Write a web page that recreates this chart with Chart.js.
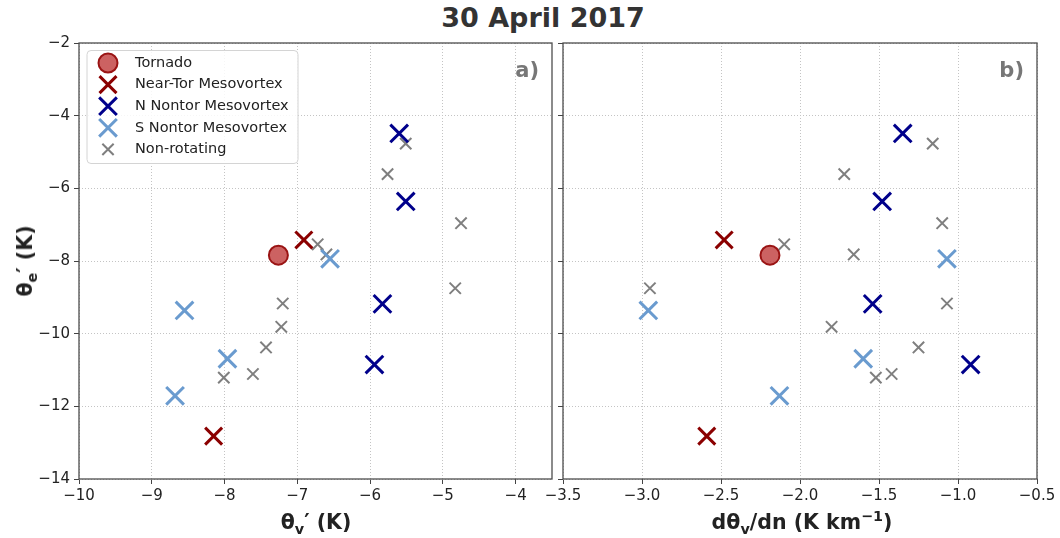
<!DOCTYPE html>
<html>
<head>
<meta charset="utf-8">
<title>30 April 2017</title>
<script src="https://cdn.jsdelivr.net/npm/chart.js@4.4.0/dist/chart.umd.min.js"></script>
<style>
  body { margin: 0; background: #fff; font-family: 'DejaVu Sans', sans-serif; }
  #wrap { position: relative; width: 1060px; height: 538px; overflow: hidden; }
  canvas { position: absolute; top: 0; }
  #chartA { left: 0; }
  #chartB { left: 530px; }
  #title { position: absolute; left: 543px; top: 2px; transform: translateX(-50%);
           font-size: 27px; font-weight: bold; color: #333; white-space: nowrap; }
  .lbl { position: absolute; font-size: 20.5px; line-height: 24px; font-weight: bold; color: #222;
         white-space: nowrap; transform: translate(-50%, -50%); }
  .lbl sub { font-size: 70%; vertical-align: -0.35em; line-height: 0; }
  .lbl sup { font-size: 70%; vertical-align: 0.55em; line-height: 0; }
  #ylab { left: 25px; top: 261px; transform: translate(-50%, -50%) rotate(-90deg); }
  #xlabA { left: 316px; top: 522px; }
  #xlabB { left: 802px; top: 522px; }
</style>
</head>
<body>
<div id="wrap">
  <div id="title">30 April 2017</div>
  <canvas id="chartA" width="556" height="538"></canvas>
  <canvas id="chartB" width="530" height="538"></canvas>
  <div class="lbl" id="ylab">θ<sub>e</sub>′ (K)</div>
  <div class="lbl" id="xlabA">θ<sub>v</sub>′ (K)</div>
  <div class="lbl" id="xlabB">dθ<sub>v</sub>/dn (K km<sup>−1</sup>)</div>
</div>
<script>
// groups, in legend order
const groups = ['Tornado', 'Near-Tor Mesovortex', 'N Nontor Mesovortex', 'S Nontor Mesovortex', 'Non-rotating'];

// theta_e' (K), shared y of both panels
const tornadoThetaE = [-7.84];
const nearTorThetaE = [-7.42, -12.82];
const nNontorThetaE = [-4.49, -6.36, -9.18, -10.85];
const sNontorThetaE = [-7.94, -9.36, -10.69, -11.71];
const nonRotThetaE = [-4.77, -5.61, -6.96, -7.54, -7.82, -8.75, -9.17, -9.81, -10.38, -11.11, -11.21];

// theta_v' (K), panel a
const tornadoThetaV = [-7.26];
const nearTorThetaV = [-6.91, -8.15];
const nNontorThetaV = [-5.60, -5.51, -5.83, -5.94];
const sNontorThetaV = [-6.55, -8.55, -7.96, -8.68];
const nonRotThetaV = [-5.51, -5.76, -4.75, -6.72, -6.60, -4.83, -7.20, -7.22, -7.43, -7.61, -8.01];

// d(theta_v)/dn (K/km), panel b
const tornadoGrad = [-2.19];
const nearTorGrad = [-2.48, -2.59];
const nNontorGrad = [-1.35, -1.48, -1.54, -0.92];
const sNontorGrad = [-1.07, -2.96, -1.60, -2.13];
const nonRotGrad = [-1.16, -1.72, -1.10, -2.10, -1.66, -2.95, -1.07, -1.80, -1.25, -1.42, -1.52];

// axis ranges and tick steps
const yRange = [-14, -2], yStep = 2;
const xRangeA = [-10, -3.5], xStepA = 1;
const xRangeB = [-3.5, -0.5], xStepB = 0.5;

Chart.defaults.font.family = "'DejaVu Sans', sans-serif";
Chart.defaults.font.size = 15;
Chart.defaults.color = '#222';

function pts(xs, ys) {
    return xs.map((x, i) => ({ x: x, y: ys[i] }));
}

function minusFmt(dec) {
    return v => (v < 0 ? '\u2212' : '') + Math.abs(v).toFixed(dec);
}

function makeDatasets(xs) {
    const ys = [tornadoThetaE, nearTorThetaE, nNontorThetaE, sNontorThetaE, nonRotThetaE];
    const styles = [
        { pointStyle: 'circle', pointRadius: 9.5, pointBackgroundColor: 'rgba(195,70,70,0.85)', pointBorderColor: '#9a1414', pointBorderWidth: 2 },
        { pointStyle: 'crossRot', pointRadius: 12, pointBackgroundColor: '#8b0000', pointBorderColor: '#8b0000', pointBorderWidth: 3 },
        { pointStyle: 'crossRot', pointRadius: 12.5, pointBackgroundColor: '#00008b', pointBorderColor: '#00008b', pointBorderWidth: 3 },
        { pointStyle: 'crossRot', pointRadius: 12.5, pointBackgroundColor: '#6a9bcf', pointBorderColor: '#6a9bcf', pointBorderWidth: 3 },
        { pointStyle: 'crossRot', pointRadius: 8, pointBackgroundColor: '#7f7f7f', pointBorderColor: '#7f7f7f', pointBorderWidth: 2 }
    ];
    return groups.map((g, i) => Object.assign({ label: g, data: pts(xs[i], ys[i]), pointHoverRadius: styles[i].pointRadius }, styles[i]));
}

// box round each panel plus the a) / b) tag
const panelDecor = {
    id: 'panelDecor',
    afterDatasetsDraw(chart, args, opts) {
        const ctx = chart.ctx, a = chart.chartArea;
        ctx.save();
        ctx.strokeStyle = '#4d4d4d';
        ctx.lineWidth = 1.3;
        ctx.strokeRect(a.left, a.top, a.right - a.left, a.bottom - a.top);
        ctx.font = "bold 21px 'DejaVu Sans'";
        ctx.fillStyle = '#777';
        ctx.textAlign = 'right';
        ctx.textBaseline = 'middle';
        ctx.fillText(opts.text, a.right - 13, a.top + 29);
        ctx.restore();
    }
};

// legend drawn inside the plot area, upper left
const insetLegend = {
    id: 'insetLegend',
    afterDraw(chart, args, opts) {
        if (!opts.show) return;
        const ctx = chart.ctx, a = chart.chartArea;
        const x0 = a.left + 8, y0 = a.top + 7.5, w = 211, h = 113, r = 4;
        ctx.save();
        ctx.beginPath();
        ctx.moveTo(x0 + r, y0);
        ctx.arcTo(x0 + w, y0, x0 + w, y0 + h, r);
        ctx.arcTo(x0 + w, y0 + h, x0, y0 + h, r);
        ctx.arcTo(x0, y0 + h, x0, y0, r);
        ctx.arcTo(x0, y0, x0 + w, y0, r);
        ctx.closePath();
        ctx.fillStyle = 'rgba(255,255,255,0.85)';
        ctx.fill();
        ctx.strokeStyle = '#d4d4d4';
        ctx.lineWidth = 1;
        ctx.stroke();

        chart.data.datasets.forEach((ds, i) => {
            const cy = y0 + 12.5 + i * 21.6;
            ctx.strokeStyle = ds.pointBorderColor;
            ctx.fillStyle = ds.pointBackgroundColor;
            ctx.lineWidth = ds.pointBorderWidth;
            Chart.helpers.drawPoint(ctx, {
                pointStyle: ds.pointStyle, radius: ds.pointRadius,
                rotation: 0, borderWidth: ds.pointBorderWidth
            }, x0 + 21, cy);
            ctx.fillStyle = '#222';
            ctx.font = "14.5px 'DejaVu Sans'";
            ctx.textAlign = 'left';
            ctx.textBaseline = 'middle';
            ctx.fillText(ds.label, x0 + 48, cy);
        });
        ctx.restore();
    }
};

function gridOpts() {
    return { color: '#c4c4c4', lineWidth: 1, tickColor: '#444', tickLength: 5, tickWidth: 1 };
}

function makePanel(canvasId, xs, xRange, xStep, xDec, yAxisWidth, padRight, tag, showLegend, showYLabels) {
    return new Chart(document.getElementById(canvasId), {
        type: 'scatter',
        data: { datasets: makeDatasets(xs) },
        options: {
            responsive: false,
            animation: false,
            layout: { autoPadding: false, padding: { top: 43, right: padRight, bottom: 0, left: 0 } },
            plugins: {
                legend: { display: false },
                tooltip: { enabled: false },
                panelDecor: { text: tag },
                insetLegend: { show: showLegend }
            },
            scales: {
                x: {
                    type: 'linear',
                    min: xRange[0], max: xRange[1],
                    grid: gridOpts(),
                    border: { display: false, dash: [1, 2] },
                    ticks: { stepSize: xStep, includeBounds: false, padding: 3, maxRotation: 0, callback: minusFmt(xDec) },
                    afterFit: s => { s.height = 59; }
                },
                y: {
                    type: 'linear',
                    min: yRange[0], max: yRange[1],
                    grid: gridOpts(),
                    border: { display: false, dash: [1, 2] },
                    ticks: {
                        stepSize: yStep, padding: 4,
                        callback: showYLabels ? minusFmt(0) : () => ''
                    },
                    afterFit: s => { s.width = yAxisWidth; }
                }
            }
        },
        plugins: [panelDecor, insetLegend]
    });
}

makePanel('chartA',
    [tornadoThetaV, nearTorThetaV, nNontorThetaV, sNontorThetaV, nonRotThetaV],
    xRangeA, xStepA, 0, 79, 4, 'a)', true, true);

makePanel('chartB',
    [tornadoGrad, nearTorGrad, nNontorGrad, sNontorGrad, nonRotGrad],
    xRangeB, xStepB, 1, 33, 23, 'b)', false, false);
</script>
</body>
</html>
